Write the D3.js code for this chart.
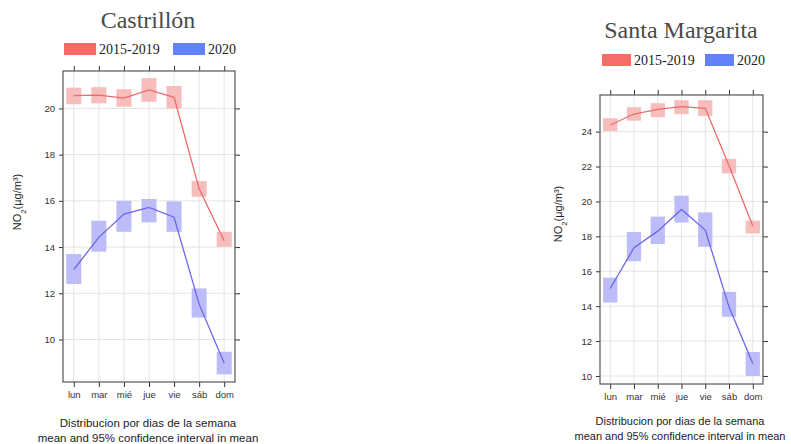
<!DOCTYPE html>
<html>
<head>
<meta charset="utf-8">
<script src="https://cdn.jsdelivr.net/npm/d3@7"></script>
<style>
  body { margin: 0; background: #fff; }
  svg { display: block; }
</style>
</head>
<body>
<svg id="chart" width="791" height="444"></svg>
<script>
const days = ['lun', 'mar', 'mié', 'jue', 'vie', 'sáb', 'dom'];
const seriesNames = ['2015-2019', '2020'];

// Castrillón
const castMean1519 = [20.55, 20.58, 20.45, 20.8, 20.48, 16.52, 14.27];
const castLow1519  = [20.18, 20.22, 20.08, 20.29, 19.99, 16.18, 14.01];
const castHigh1519 = [20.9, 20.92, 20.83, 21.31, 20.97, 16.86, 14.66];
const castMean2020 = [13.03, 14.42, 15.43, 15.72, 15.29, 11.53, 8.97];
const castLow2020  = [12.4, 13.8, 14.66, 15.07, 14.66, 10.95, 8.49];
const castHigh2020 = [13.7, 15.14, 16.0, 16.08, 15.98, 12.21, 9.47];
const castTicks = [10, 12, 14, 16, 18, 20];

// Santa Margarita
const smMean1519 = [24.38, 25.01, 25.28, 25.43, 25.34, 22.05, 18.6];
const smLow1519  = [24.04, 24.63, 24.83, 25.0, 24.9, 21.61, 18.17];
const smHigh1519 = [24.77, 25.4, 25.63, 25.8, 25.8, 22.44, 18.9];
const smMean2020 = [15.01, 17.35, 18.3, 19.54, 18.36, 13.96, 10.72];
const smLow2020  = [14.21, 16.58, 17.56, 18.79, 17.4, 13.39, 10.0];
const smHigh2020 = [15.63, 18.25, 19.13, 20.33, 19.37, 14.82, 11.37];
const smTicks = [10, 12, 14, 16, 18, 20, 22, 24];

const colors = {
    legend: ['#f76c66', '#6282fb'],
    line: ['#ee6a6a', '#6c66ee'],
    band: ['#f7bcbc', '#bcbcf8']
};

class WeekdayPanel {
    constructor(config, series) {
        this.config = config;
        this.series = series;
        this.svg = d3.select('#chart');
        this.render();
    }

    render() {
        const c = this.config;
        const g = this.svg.append('g');

        const xscale = d3.scalePoint()
            .domain(days)
            .range([c.left, c.right])
            .padding(0.43);

        const yscale = d3.scaleLinear()
            .domain(c.ydomain)
            .range([c.bottom, c.top]);

        const step = xscale.step();
        const boxw = step * 0.6;

        // grid
        g.append('g').selectAll('line.vg')
            .data(days)
            .join('line')
            .attr('x1', d => xscale(d)).attr('x2', d => xscale(d))
            .attr('y1', c.top).attr('y2', c.bottom)
            .attr('stroke', '#e4e4e4').attr('stroke-width', 1);

        g.append('g').selectAll('line.hg')
            .data(c.ticks)
            .join('line')
            .attr('x1', c.left).attr('x2', c.right)
            .attr('y1', d => yscale(d)).attr('y2', d => yscale(d))
            .attr('stroke', '#e4e4e4').attr('stroke-width', 1);

        // confidence boxes and mean lines
        this.series.forEach((s, i) => {
            g.append('g').selectAll('rect')
                .data(days)
                .join('rect')
                .attr('x', d => xscale(d) - boxw / 2)
                .attr('width', boxw)
                .attr('y', (d, k) => yscale(s.high[k]))
                .attr('height', (d, k) => yscale(s.low[k]) - yscale(s.high[k]))
                .attr('fill', colors.band[i]);
        });
        this.series.forEach((s, i) => {
            const line = d3.line()
                .x((d, k) => xscale(days[k]))
                .y(d => yscale(d));
            g.append('path')
                .datum(s.mean)
                .attr('d', line)
                .attr('fill', 'none')
                .attr('stroke', colors.line[i])
                .attr('stroke-width', 1.3);
        });

        // axes (lattice style: ticks on all four sides)
        const axisStyle = sel => {
            sel.select('.domain').remove();
            sel.selectAll('line').attr('stroke', '#333');
            sel.selectAll('text')
                .attr('fill', '#333')
                .style('font-family', '"Liberation Sans", Arial, sans-serif')
                .style('font-size', c.tickFont + 'px');
        };

        g.append('g')
            .attr('transform', `translate(0, ${c.bottom})`)
            .call(d3.axisBottom(xscale).tickSize(5).tickPadding(4))
            .call(axisStyle);
        g.append('g')
            .attr('transform', `translate(0, ${c.top})`)
            .call(d3.axisTop(xscale).tickSize(5).tickFormat(''))
            .call(axisStyle);
        g.append('g')
            .attr('transform', `translate(${c.left}, 0)`)
            .call(d3.axisLeft(yscale).tickValues(c.ticks).tickSize(4).tickPadding(4))
            .call(axisStyle);
        g.append('g')
            .attr('transform', `translate(${c.right}, 0)`)
            .call(d3.axisRight(yscale).tickValues(c.ticks).tickSize(5).tickFormat(''))
            .call(axisStyle);

        g.append('rect')
            .attr('x', c.left).attr('y', c.top)
            .attr('width', c.right - c.left).attr('height', c.bottom - c.top)
            .attr('fill', 'none').attr('stroke', '#555').attr('stroke-width', 1.2);

        // title
        g.append('text')
            .attr('x', c.titleX).attr('y', c.titleY)
            .attr('text-anchor', 'middle')
            .style('font-family', '"Liberation Serif", "Times New Roman", serif')
            .style('font-size', c.titleFont + 'px')
            .attr('fill', '#4a4a4a')
            .text(c.title);

        // legend
        c.legend.forEach((l, i) => {
            g.append('rect')
                .attr('x', l.x).attr('y', c.legendY)
                .attr('width', c.legendW).attr('height', c.legendH)
                .attr('fill', colors.legend[i]);
            g.append('text')
                .attr('x', l.x + c.legendW + 3)
                .attr('y', c.legendY + c.legendH - 1)
                .style('font-family', '"Liberation Serif", "Times New Roman", serif')
                .style('font-size', c.legendFont + 'px')
                .attr('fill', '#222')
                .text(seriesNames[i]);
        });

        // y label
        const yl = g.append('text')
            .attr('transform', `translate(${c.ylabelX}, ${c.ylabelY}) rotate(-90)`)
            .attr('text-anchor', 'middle')
            .style('font-family', '"Liberation Sans", Arial, sans-serif')
            .style('font-size', c.ylabelFont + 'px')
            .attr('fill', '#222');
        yl.append('tspan').text('NO');
        yl.append('tspan').attr('baseline-shift', 'sub').style('font-size', (c.ylabelFont * 0.7) + 'px').text('2');
        yl.append('tspan').text('(µg/m³)');

        // x label
        const xl = ['Distribucion por dias de la semana', 'mean and 95% confidence interval in mean'];
        xl.forEach((t, i) => {
            g.append('text')
                .attr('x', c.xlabelX).attr('y', c.xlabelY + i * c.xlabelGap)
                .attr('text-anchor', 'middle')
                .style('font-family', '"Liberation Sans", Arial, sans-serif')
                .style('font-size', c.xlabelFont + 'px')
                .attr('fill', '#222')
                .text(t);
        });
    }
}

new WeekdayPanel({
    left: 63, right: 235, top: 71, bottom: 382,
    ydomain: [8.16, 21.62], ticks: castTicks, tickFont: 9.5,
    title: 'Castrillón', titleX: 148, titleY: 28, titleFont: 24,
    legendY: 43, legendW: 32, legendH: 12, legendFont: 14,
    legend: [{ x: 64 }, { x: 173 }],
    ylabelX: 21, ylabelY: 202, ylabelFont: 11,
    xlabelX: 148, xlabelY: 427, xlabelGap: 14.5, xlabelFont: 11.5
}, [
    { mean: castMean1519, low: castLow1519, high: castHigh1519 },
    { mean: castMean2020, low: castLow2020, high: castHigh2020 }
]);

new WeekdayPanel({
    left: 600, right: 763, top: 95, bottom: 384,
    ydomain: [9.54, 26.1], ticks: smTicks, tickFont: 9.5,
    title: 'Santa Margarita', titleX: 681, titleY: 38, titleFont: 24,
    legendY: 54, legendW: 29, legendH: 12, legendFont: 14,
    legend: [{ x: 602 }, { x: 705 }],
    ylabelX: 562, ylabelY: 214, ylabelFont: 11,
    xlabelX: 680, xlabelY: 425, xlabelGap: 15, xlabelFont: 11
}, [
    { mean: smMean1519, low: smLow1519, high: smHigh1519 },
    { mean: smMean2020, low: smLow2020, high: smHigh2020 }
]);
</script>
</body>
</html>
